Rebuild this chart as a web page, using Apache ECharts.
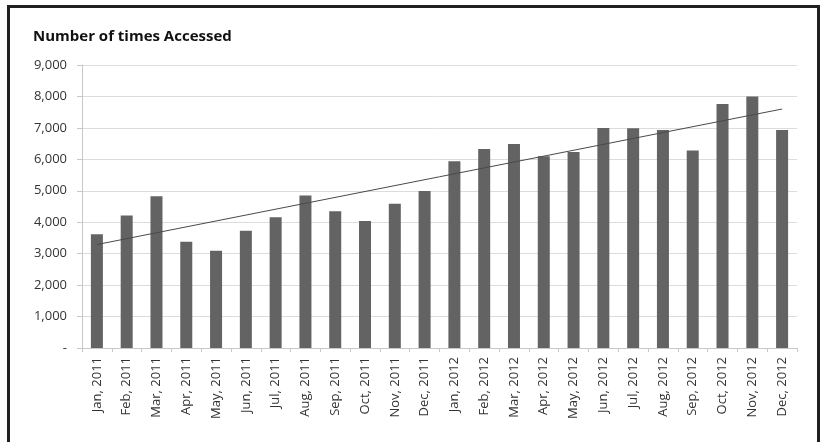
<!DOCTYPE html>
<html>
<head>
<meta charset="utf-8">
<script src="https://cdn.jsdelivr.net/npm/echarts@6/dist/echarts.min.js"></script>
<style>
  html, body { margin: 0; padding: 0; background: #fff; }
  #chart { width: 824px; height: 442px; }
</style>
</head>
<body>
<div id="chart"></div>
<script>
// Monthly access counts, Jan 2011 – Dec 2012
const months = [
  'Jan, 2011', 'Feb, 2011', 'Mar, 2011', 'Apr, 2011', 'May, 2011', 'Jun, 2011',
  'Jul, 2011', 'Aug, 2011', 'Sep, 2011', 'Oct, 2011', 'Nov, 2011', 'Dec, 2011',
  'Jan, 2012', 'Feb, 2012', 'Mar, 2012', 'Apr, 2012', 'May, 2012', 'Jun, 2012',
  'Jul, 2012', 'Aug, 2012', 'Sep, 2012', 'Oct, 2012', 'Nov, 2012', 'Dec, 2012'
];
const accessCounts = [
  3615, 4210, 4825, 3380, 3095, 3730, 4160, 4850, 4350, 4040, 4590, 4990,
  5940, 6330, 6490, 6100, 6230, 7000, 6990, 6930, 6280, 7760, 8000, 6930
];
// Linear trend line: value at first and last month
const trendEnds = [3290, 7600];
const yTicks = [0, 1000, 2000, 3000, 4000, 5000, 6000, 7000, 8000, 9000];

const chart = echarts.init(document.getElementById('chart'), null, { renderer: 'canvas' });
const textColor = '#333';
const font = '"Open Sans", "Noto Sans", sans-serif';

chart.setOption({
  animation: false,
  backgroundColor: '#fff',
  title: {
    text: 'Number of times Accessed',
    left: 28,
    top: 24,
    textStyle: { fontFamily: font, fontSize: 15, fontWeight: 'bold', color: '#111' }
  },
  grid: { left: 82, right: 27, top: 65, bottom: 94, containLabel: false },
  xAxis: {
    type: 'category',
    data: months,
    boundaryGap: true,
    axisLine: { lineStyle: { color: '#c8c8c8' } },
    axisTick: { show: true, length: 4, alignWithLabel: false, lineStyle: { color: '#c8c8c8' } },
    axisLabel: {
      rotate: 90, interval: 0, margin: 9,
      fontFamily: font, fontSize: 13, color: textColor
    }
  },
  yAxis: {
    type: 'value',
    min: yTicks[0],
    max: yTicks[yTicks.length - 1],
    interval: yTicks[1] - yTicks[0],
    axisLine: { show: true, lineStyle: { color: '#c8c8c8' } },
    axisTick: { show: true, length: 5, lineStyle: { color: '#c8c8c8' } },
    splitLine: { lineStyle: { color: '#dcdcdc' } },
    axisLabel: {
      margin: 15, fontFamily: font, fontSize: 13, color: textColor,
      formatter: v => v === 0 ? '-' : v.toLocaleString('en-US')
    }
  },
  series: [
    {
      type: 'bar',
      data: accessCounts,
      barWidth: 12,
      itemStyle: { color: '#636363' }
    },
    {
      type: 'line',
      data: [[0, trendEnds[0]], [months.length - 1, trendEnds[1]]],
      symbol: 'none',
      lineStyle: { color: '#4a4a4a', width: 1 },
      z: 5
    }
  ],
  graphic: [
    {
      type: 'rect',
      shape: { x: 8.5, y: 6.5, width: 810, height: 460 },
      style: { fill: 'none', stroke: '#231f20', lineWidth: 3 },
      silent: true
    }
  ]
});
</script>
</body>
</html>
